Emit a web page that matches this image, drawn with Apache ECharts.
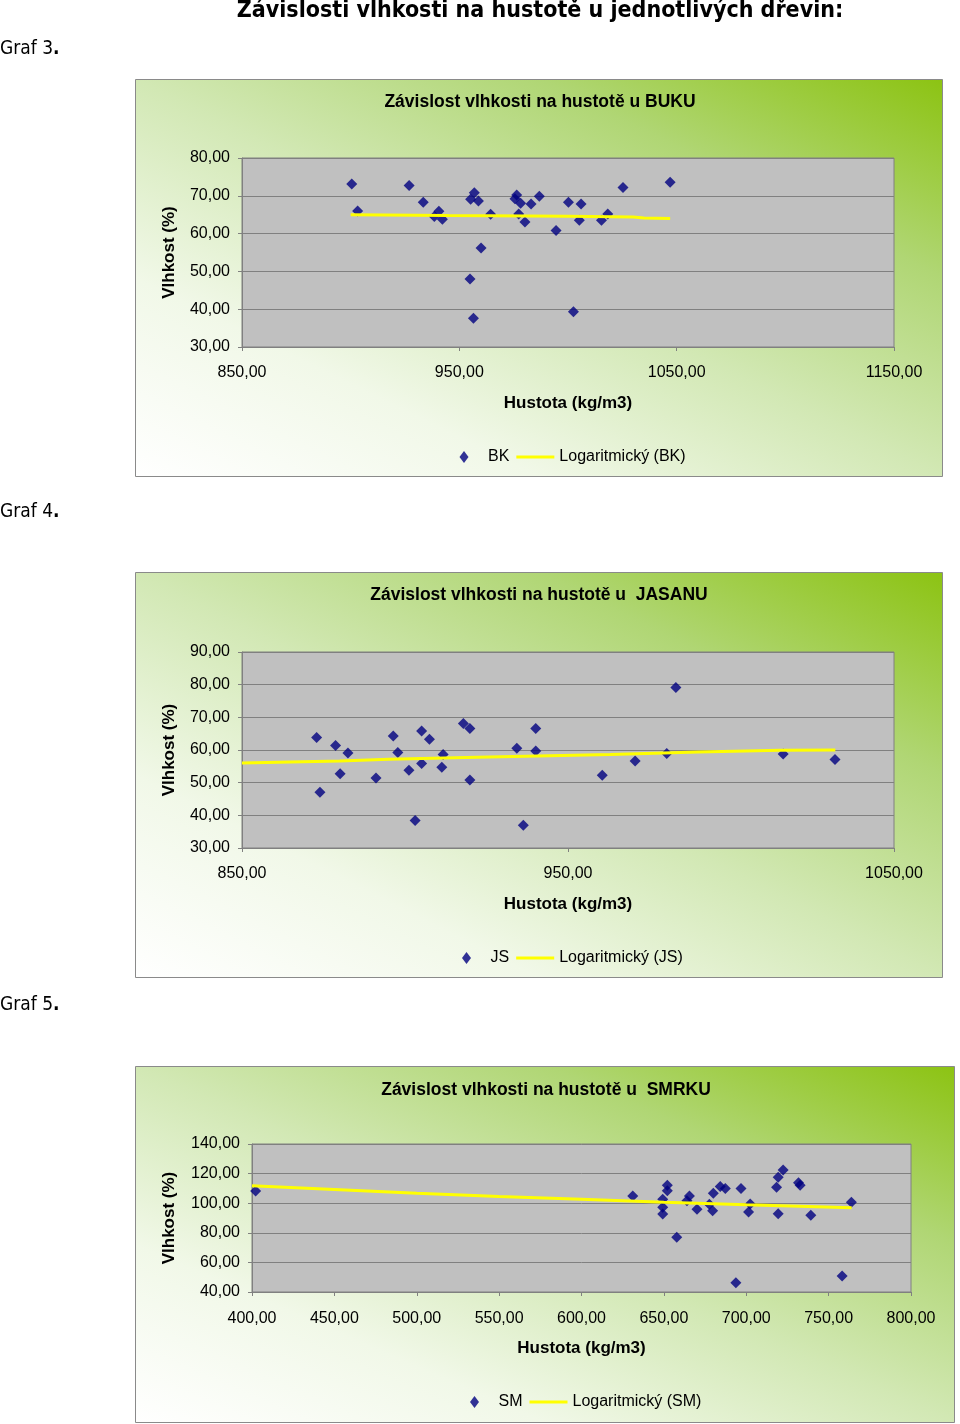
<!DOCTYPE html>
<html><head><meta charset="utf-8">
<script src="https://cdn.jsdelivr.net/npm/echarts@6/dist/echarts.min.js"></script>
<style>html,body{margin:0;padding:0;background:#fff}#c{width:960px;height:1424px}</style>
</head><body><div id="c"></div>
<script>
// ---- BUK (BK) ----
const bkDensity = [900.5, 903.2, 926.9, 933.4, 938.5, 940.6, 942.2, 954.9, 956.5, 956.9, 955.2, 958.8, 960.0, 964.4, 976.4, 975.6, 978.2, 977.3, 980.2, 983.0, 986.8, 994.5, 1000.2, 1002.5, 1006.0, 1005.2, 1015.4, 1018.3, 1025.3, 1047.0];
const bkMoisture = [73.1, 66.0, 72.7, 68.3, 64.5, 65.9, 63.8, 48.0, 37.6, 70.8, 69.1, 68.6, 56.2, 65.1, 70.2, 69.2, 68.0, 65.2, 63.1, 67.8, 69.9, 60.8, 68.3, 39.3, 67.8, 63.5, 63.5, 65.2, 72.2, 73.6];
const bkTrendX = [900, 945, 1000, 1030, 1035, 1047];
const bkTrendY = [65.0, 64.8, 64.6, 64.4, 64.1, 64.0];
// ---- JASAN (JS) ----
const jsDensity = [872.9, 873.9, 878.7, 880.1, 882.5, 891.1, 896.4, 897.8, 901.2, 903.1, 905.1, 905.1, 907.5, 911.7, 911.3, 917.9, 919.9, 919.9, 934.3, 936.3, 940.1, 940.1, 960.5, 970.6, 983.1, 980.3, 1016.0, 1031.9];
const jsMoisture = [63.8, 47.1, 61.4, 52.7, 59.1, 51.4, 64.3, 59.2, 53.8, 38.4, 65.8, 55.9, 63.3, 58.6, 54.7, 68.1, 66.6, 50.8, 60.5, 37.0, 66.6, 59.7, 52.3, 56.6, 79.1, 58.9, 58.8, 57.1];
const jsTrendX = [850, 880, 895, 922, 963, 990, 1015, 1032];
const jsTrendY = [56.0, 56.6, 57.2, 57.8, 58.6, 59.4, 59.9, 60.0];
// ---- SMRK (SM) ----
const smDensity = [402.2, 631.1, 649.3, 649.3, 649.3, 652.1, 652.1, 657.8, 664.0, 665.5, 670.1, 677.6, 679.6, 680.0, 684.2, 687.3, 693.7, 696.8, 702.4, 701.4, 718.4, 719.4, 722.4, 719.4, 731.7, 732.7, 739.2, 758.2, 763.8];
const smMoisture = [108.2, 104.9, 102.6, 97.2, 92.7, 112.1, 108.4, 77.0, 101.7, 104.9, 95.9, 99.3, 94.9, 106.7, 111.2, 109.9, 46.3, 109.9, 99.5, 94.1, 110.7, 117.5, 122.4, 92.9, 113.9, 112.1, 91.8, 50.8, 100.6];
const smTrendX = [400, 450, 500, 550, 600, 650, 700, 764];
const smTrendY = [111.8, 109.3, 106.8, 104.6, 102.6, 100.7, 99.0, 97.0];
// ---- texts / ticks ----
const pageTitle = 'Závislosti vlhkosti na hustotě u jednotlivých dřevin:';
const grafLabels = ['Graf 3', 'Graf 4', 'Graf 5'];
const chartTitles = ['Závislost vlhkosti na hustotě u BUKU', 'Závislost vlhkosti na hustotě u  JASANU', 'Závislost vlhkosti na hustotě u  SMRKU'];
const seriesNames = ['BK', 'JS', 'SM'];
const trendNames = ['Logaritmický (BK)', 'Logaritmický (JS)', 'Logaritmický (SM)'];
const xAxisName = 'Hustota (kg/m3)';
const yAxisName = 'Vlhkost (%)';
const xRanges = [[850, 1150, 100], [850, 1050, 100], [400, 800, 50]];
const yRanges = [[30, 80, 10], [30, 90, 10], [40, 140, 20]];

const FONT = '"Liberation Sans", Arial, sans-serif';
const zip = (a, b) => a.map((v, i) => [v, b[i]]);
const fmt = v => v.toFixed(2).replace('.', ',');

const grids = [
  {left: 242, top: 158, width: 652, height: 189},
  {left: 242, top: 652, width: 652, height: 196},
  {left: 252, top: 1144, width: 659, height: 148}
];
const boxes = [
  {x: 135, y: 79, w: 807, h: 397, title: 102, legendTop: 449, legendLeft: 459.5},
  {x: 135, y: 572, w: 807, h: 405, title: 595, legendTop: 950, legendLeft: 462},
  {x: 135, y: 1066, w: 819, h: 356, title: 1090, legendTop: 1394, legendLeft: 470}
];
const titleX = [540, 539, 546];
const grafY = [49, 512, 1005];
const yNameGap = [64, 64, 74];
const xLabelMargin = [18, 18, 19];

const pts = [zip(bkDensity, bkMoisture), zip(jsDensity, jsMoisture), zip(smDensity, smMoisture)];
const trends = [zip(bkTrendX, bkTrendY), zip(jsTrendX, jsTrendY), zip(smTrendX, smTrendY)];

// gradient whose iso-lines run along the top-left / bottom-right diagonal of the box
const grad = (w, h) => {
  const L2 = w * w + h * h;
  return new echarts.graphic.LinearGradient(0, 1, 2 * h * h / L2, 1 - 2 * w * w / L2, [
    {offset: 0, color: '#ffffff'},
    {offset: 0.25, color: '#f1f8e8'},
    {offset: 0.5, color: '#d2e8b4'},
    {offset: 0.75, color: '#b0d674'},
    {offset: 1, color: '#8cc312'}
  ]);
};

const graphic = [];
boxes.forEach((b, i) => {
  graphic.push({type: 'rect', z: -10, shape: {x: b.x + 0.5, y: b.y + 0.5, width: b.w, height: b.h},
    style: {fill: grad(b.w, b.h), stroke: '#8a8a8a', lineWidth: 1}});
  graphic.push({type: 'text', z: 10, x: titleX[i], y: b.title,
    style: {text: chartTitles[i], font: 'bold 17.5px ' + FONT, fill: '#000', textAlign: 'center', textVerticalAlign: 'middle'}});
  graphic.push({type: 'text', z: 10, x: 0, y: grafY[i],
    style: {text: '{a|' + grafLabels[i] + '}{b|.}', textVerticalAlign: 'middle',
      rich: {a: {font: '19px "DejaVu Sans Condensed", sans-serif', fill: '#000'}, b: {font: 'bold 19px "DejaVu Sans Condensed", sans-serif', fill: '#000'}}}});
});
graphic.push({type: 'text', z: 10, x: 540, y: 11,
  style: {text: pageTitle, font: 'bold 23px "DejaVu Sans Condensed", sans-serif', fill: '#000', textAlign: 'center', textVerticalAlign: 'middle'}});

const xAxis = xRanges.map((r, i) => ({
  type: 'value', gridIndex: i, min: r[0], max: r[1], interval: r[2],
  axisLine: {show: true, onZero: false, lineStyle: {color: '#808080'}},
  axisTick: {show: true, length: 4, lineStyle: {color: '#808080'}},
  splitLine: {show: false},
  axisLabel: {color: '#000', fontSize: 16, fontFamily: FONT, margin: xLabelMargin[i], formatter: fmt, showMinLabel: true, showMaxLabel: true},
  name: xAxisName, nameLocation: 'middle', nameGap: 48,
  nameTextStyle: {color: '#000', fontSize: 17, fontWeight: 'bold', fontFamily: FONT}
}));
const yAxis = yRanges.map((r, i) => ({
  type: 'value', gridIndex: i, min: r[0], max: r[1], interval: r[2],
  axisLine: {show: true, onZero: false, lineStyle: {color: '#808080'}},
  axisTick: {show: true, length: 4, lineStyle: {color: '#808080'}},
  splitLine: {show: true, lineStyle: {color: '#808080', width: 1}},
  axisLabel: {color: '#000', fontSize: 16, fontFamily: FONT, margin: 12, formatter: fmt},
  name: yAxisName, nameLocation: 'middle', nameGap: yNameGap[i], nameRotate: 90,
  nameTextStyle: {color: '#000', fontSize: 17, fontWeight: 'bold', fontFamily: FONT}
}));

const series = [];
seriesNames.forEach((n, i) => {
  series.push({name: n, type: 'scatter', xAxisIndex: i, yAxisIndex: i, data: pts[i],
    symbol: 'diamond', symbolSize: 11, itemStyle: {color: '#000080'}, z: 2});
  series.push({name: trendNames[i], type: 'line', xAxisIndex: i, yAxisIndex: i, data: trends[i],
    showSymbol: false, symbol: 'none', itemStyle: {color: '#ffff00'}, lineStyle: {color: '#ffff00', width: 3}, z: 3});
});

const legend = boxes.map((b, i) => ({
  left: b.legendLeft, top: b.legendTop, padding: 0, itemGap: 7, itemWidth: 38, itemHeight: 12,
  selectedMode: false, symbolKeepAspect: true,
  textStyle: {color: '#000', fontSize: 16, fontFamily: FONT},
  data: [{name: seriesNames[i], icon: 'path://M4.5,0L9,6L4.5,12L0,6Z'}, {name: trendNames[i], icon: 'path://M0,0h38v3h-38z'}]
}));

const chart = echarts.init(document.getElementById('c'), null, {renderer: 'canvas'});
chart.setOption({
  animation: false,
  backgroundColor: '#ffffff',
  grid: grids.map(g => Object.assign({show: true, backgroundColor: '#c0c0c0', borderColor: '#808080', borderWidth: 1, containLabel: false}, g)),
  xAxis, yAxis, series, legend, graphic
});
</script></body></html>
